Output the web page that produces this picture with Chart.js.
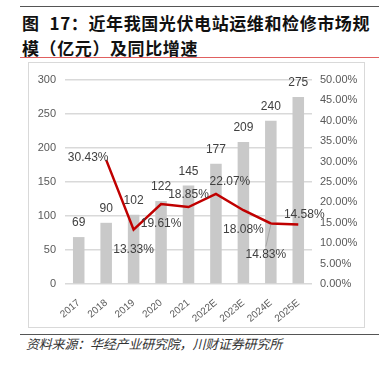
<!DOCTYPE html>
<html>
<head>
<meta charset="utf-8">
<script src="https://cdn.jsdelivr.net/npm/chart.js@4.4.0/dist/chart.umd.min.js"></script>
<style>
  body { margin: 0; width: 379px; height: 374px; background: #fff; position: relative; overflow: hidden;
         font-family: "Noto Sans CJK SC", sans-serif; }
  .rule-top { position: absolute; left: 20px; top: 6px; width: 359px; height: 1px; background: #555; }
  .title { position: absolute; left: 22px; top: 10px; font-size: 17px; line-height: 25px; font-weight: bold;
           color: #111; letter-spacing: 0.6px; white-space: nowrap; }
  .title .gap { display: inline-block; width: 10px; }
  .rule-red { position: absolute; left: 20px; top: 57px; width: 359px; height: 1px; background: #E06060; }
  .box { position: absolute; left: 28px; top: 62px; width: 335px; height: 264px; border: 1px solid #D9D9D9; }
  .box canvas { display: block; }
  .rule-bottom { position: absolute; left: 20px; top: 334px; width: 359px; height: 1px; background: #555; }
  .source { position: absolute; left: 26px; top: 336px; font-size: 13px; line-height: 16px; font-style: italic;
            color: #333; white-space: nowrap; letter-spacing: -0.2px; }
</style>
</head>
<body>
<div class="rule-top"></div>
<div class="title">图<span class="gap"></span>17：近年我国光伏电站运维和检修市场规<br>模（亿元）及同比增速</div>
<div class="rule-red"></div>
<div class="box"><canvas id="chart" width="335" height="264"></canvas></div>
<div class="rule-bottom"></div>
<div class="source">资料来源：华经产业研究院，川财证券研究所</div>

<script>
// chart data
const years = ['2017', '2018', '2019', '2020', '2021', '2022E', '2023E', '2024E', '2025E'];
const marketSize = [69, 90, 102, 122, 145, 177, 209, 240, 275];   // 亿元
const growthRate = [null, 30.43, 13.33, 19.61, 18.85, 22.07, 18.08, 14.83, 14.58]; // %
const leftAxis = { min: 0, max: 300, step: 50 };
const rightAxis = { min: 0, max: 50, step: 5 };

// where each growth label sits relative to its point (dx, dy), plus optional leader line
const rateLabelOffsets = [null, [-18, -2], [0, 20], [0, 20], [0, -12], [14, -12], [0, 19], [-5, 31, true], [6, -10]];

const labelFont = '12px "Liberation Sans", Arial, sans-serif';
const tickFont = { family: '"Liberation Sans", Arial, sans-serif', size: 11 };

const valueLabels = {
  id: 'valueLabels',
  afterDatasetsDraw(chart) {
    const ctx = chart.ctx;
    ctx.save();
    ctx.font = labelFont;
    ctx.fillStyle = '#404040';
    ctx.textAlign = 'center';
    ctx.textBaseline = 'middle';

    // bar values
    chart.getDatasetMeta(0).data.forEach((bar, i) => {
      ctx.fillText(marketSize[i], bar.x, bar.y - 14);
    });

    // growth rate values
    chart.getDatasetMeta(1).data.forEach((pt, i) => {
      if (growthRate[i] == null) return;
      const [dx, dy, leader] = rateLabelOffsets[i];
      if (leader) {
        ctx.strokeStyle = '#A6A6A6';
        ctx.lineWidth = 1;
        ctx.beginPath();
        ctx.moveTo(pt.x + dx, pt.y + dy - 8);
        ctx.lineTo(pt.x, pt.y + 1);
        ctx.stroke();
      }
      ctx.fillText(growthRate[i].toFixed(2) + '%', pt.x + dx, pt.y + dy);
    });
    ctx.restore();
  }
};

new Chart(document.getElementById('chart'), {
  data: {
    labels: years,
    datasets: [
      {
        type: 'bar',
        label: '市场规模（亿元）',
        data: marketSize,
        backgroundColor: '#C9C9C9',
        categoryPercentage: 1,
        barPercentage: 0.42,
        yAxisID: 'y',
        order: 2
      },
      {
        type: 'line',
        label: '同比增速',
        data: growthRate,
        borderColor: '#C00000',
        borderWidth: 2.5,
        pointRadius: 0,
        tension: 0,
        yAxisID: 'y1',
        order: 1
      }
    ]
  },
  options: {
    responsive: false,
    animation: false,
    layout: { padding: { top: 17, left: 0, right: 0, bottom: 0 } },
    plugins: { legend: { display: false }, tooltip: { enabled: false } },
    scales: {
      x: {
        grid: { display: false },
        border: { display: false },
        ticks: { color: '#595959', font: { family: tickFont.family, size: 10 }, minRotation: 40, maxRotation: 40, padding: 5 },
        afterFit(scale) { scale.height = 43; }
      },
      y: {
        position: 'left',
        min: leftAxis.min,
        max: leftAxis.max,
        ticks: { stepSize: leftAxis.step, color: '#595959', font: tickFont, padding: 9 },
        grid: { color: '#D9D9D9', lineWidth: 1.5, drawTicks: false },
        border: { display: false },
        afterFit(scale) { scale.width = 36; }
      },
      y1: {
        position: 'right',
        min: rightAxis.min,
        max: rightAxis.max,
        ticks: {
          stepSize: rightAxis.step, color: '#595959', font: tickFont, padding: 8,
          callback: v => v.toFixed(2) + '%'
        },
        grid: { display: false, drawTicks: false },
        border: { display: false },
        afterFit(scale) { scale.width = 52; }
      }
    }
  },
  plugins: [valueLabels]
});
</script>
</body>
</html>
